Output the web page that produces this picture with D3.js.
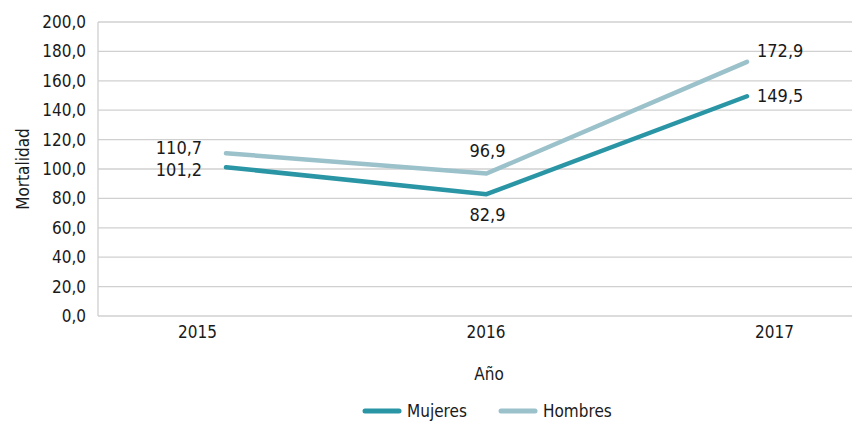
<!DOCTYPE html>
<html><head><meta charset="utf-8">
<script src="https://cdn.jsdelivr.net/npm/d3@7"></script>
<style>
body{margin:0;background:#fff;}
text{font-family:"DejaVu Sans Condensed","DejaVu Sans",sans-serif;font-stretch:condensed;fill:#1a1a1a;}
</style></head>
<body><svg id="c" width="867" height="423"></svg>
<script>
const years = ["2015","2016","2017"];
const mujeres = [101.2, 82.9, 149.5];
const hombres = [110.7, 96.9, 172.9];
const yTicks = [0,20,40,60,80,100,120,140,160,180,200];
const seriesNames = ["Mujeres","Hombres"];
const colors = ["#2a95a5","#9bc1cb"];

const svg = d3.select("#c");
const pLeft = 98, pRight = 852, pTop = 22, pBottom = 316;
const xLab = d3.scalePoint().domain(years).range([197, 774]);
const x = d3.scalePoint().domain(years).range([226, 747]);
const y = d3.scaleLinear().domain([0,200]).range([pBottom, pTop]);
const fmt = v => d3.format(".1f")(v).replace(".", ",");

// grid
svg.append("g").selectAll("line").data(yTicks).join("line")
  .attr("x1", pLeft).attr("x2", pRight)
  .attr("y1", d => y(d)).attr("y2", d => y(d))
  .attr("stroke", "#d0d0d0").attr("stroke-width", 1.3);
svg.append("line").attr("x1", pLeft).attr("x2", pLeft).attr("y1", pTop).attr("y2", pBottom)
  .attr("stroke", "#d0d0d0").attr("stroke-width", 1.3);

// y axis labels
const yAxis = d3.axisLeft(y).tickValues(yTicks).tickFormat(fmt).tickSize(0).tickPadding(12);
const ga = svg.append("g").attr("transform", `translate(${pLeft},0)`).call(yAxis);
ga.attr("font-family", null).attr("font-size", null);
ga.select(".domain").remove();
ga.selectAll("text").attr("font-size", 17).attr("fill", "#1a1a1a");

// x axis labels
const xAxis = d3.axisBottom(xLab).tickSize(0).tickPadding(10);
const gx = svg.append("g").attr("transform", `translate(0,${pBottom})`).call(xAxis);
gx.attr("font-family", null).attr("font-size", null);
gx.select(".domain").remove();
gx.selectAll("text").attr("font-size", 17).attr("fill", "#1a1a1a");

// axis titles
svg.append("text").attr("transform", "translate(24,169) rotate(-90)")
  .attr("text-anchor", "middle").attr("dominant-baseline", "middle").attr("font-size", 17).text("Mortalidad");
svg.append("text").attr("x", 489).attr("y", 375)
  .attr("text-anchor", "middle").attr("dominant-baseline", "middle").attr("font-size", 17).text("Año");

// lines
const line = d3.line().x((d,i) => x(years[i])).y(d => y(d));
[mujeres, hombres].forEach((s, k) => {
  svg.append("path").datum(s).attr("d", line).attr("fill", "none")
    .attr("stroke", colors[k]).attr("stroke-width", 4.5)
    .attr("stroke-linecap", "round").attr("stroke-linejoin", "round");
});

// data labels
const labels = [
  {s:hombres, i:0, dx:-47, dy:-4, anchor:"middle"},
  {s:mujeres, i:0, dx:-47, dy:4, anchor:"middle"},
  {s:hombres, i:1, dx:1, dy:-22, anchor:"middle"},
  {s:mujeres, i:1, dx:1, dy:22, anchor:"middle"},
  {s:hombres, i:2, dx:10, dy:-10, anchor:"start"},
  {s:mujeres, i:2, dx:10, dy:1, anchor:"start"}
];
labels.forEach(l => {
  svg.append("text")
    .attr("x", x(years[l.i]) + l.dx)
    .attr("y", y(l.s[l.i]) + l.dy)
    .attr("text-anchor", l.anchor).attr("dominant-baseline", "middle")
    .attr("font-size", 18).text(fmt(l.s[l.i]));
});

// legend
const legX = [365, 501];
seriesNames.forEach((n, k) => {
  svg.append("line").attr("x1", legX[k]).attr("x2", legX[k] + 34)
    .attr("y1", 411).attr("y2", 411)
    .attr("stroke", colors[k]).attr("stroke-width", 5).attr("stroke-linecap", "round");
  svg.append("text").attr("x", legX[k] + 42).attr("y", 412)
    .attr("dominant-baseline", "middle")
    .attr("font-size", 17).text(n);
});
</script></body></html>
